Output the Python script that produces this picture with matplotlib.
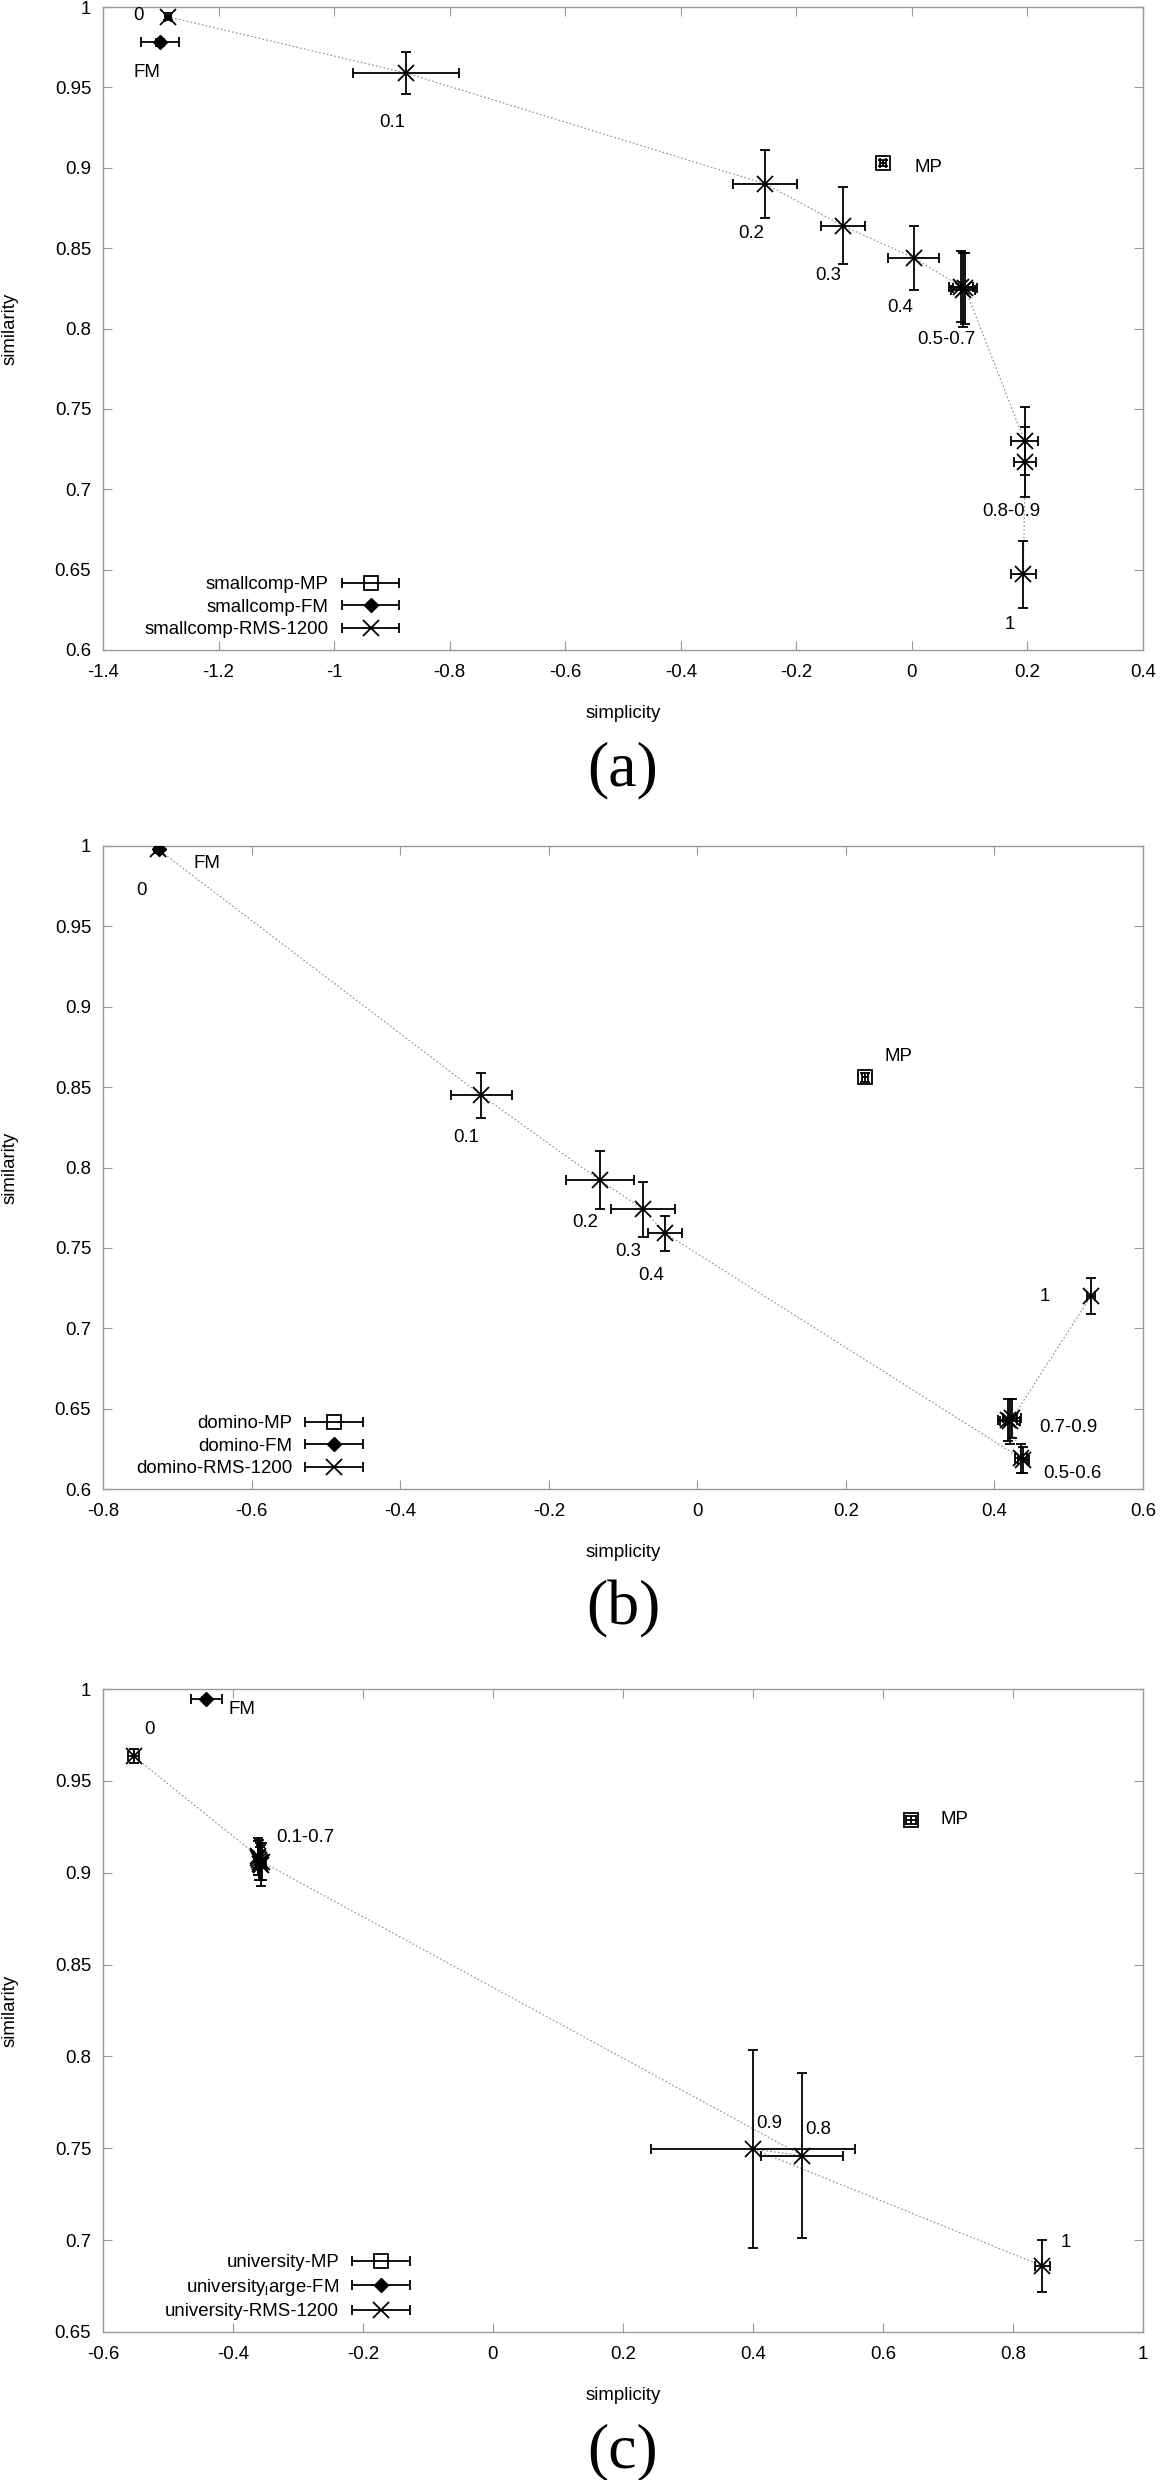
import numpy as np
import matplotlib
matplotlib.use('Agg')
import matplotlib.pyplot as plt
from matplotlib.container import ErrorbarContainer
from matplotlib.legend_handler import HandlerErrorbar

plt.rcParams['font.family'] = ['Liberation Sans', 'DejaVu Sans']
plt.rcParams['mathtext.fontset'] = 'custom'
plt.rcParams['mathtext.rm'] = 'Liberation Sans'
plt.rcParams['mathtext.it'] = 'Liberation Sans'
plt.rcParams['axes.unicode_minus'] = False

# ---------------- (a) smallcomp ----------------
a_rms_x = [-1.288, -0.876, -0.254, -0.120, 0.003, 0.085, 0.089, 0.092, 0.195, 0.196, 0.193]
a_rms_y = [0.994, 0.959, 0.890, 0.864, 0.844, 0.826, 0.824, 0.825, 0.730, 0.717, 0.647]
a_rms_xerr = [0.005, 0.092, 0.056, 0.038, 0.044, 0.020, 0.021, 0.020, 0.024, 0.019, 0.021]
a_rms_yerr = [0.002, 0.013, 0.021, 0.024, 0.020, 0.022, 0.023, 0.022, 0.021, 0.022, 0.021]
a_fm = (-1.302, 0.978, 0.033, 0.002)
a_mp = (-0.050, 0.903, 0.006, 0.002)
a_names = ['smallcomp-MP', 'smallcomp-FM', 'smallcomp-RMS-1200']
a_tags = ['0', '0.1', '0.2', '0.3', '0.4', '0.5-0.7', '0.8-0.9', '1']
a_tag_idx = [0, 1, 2, 3, 4, 6, 9, 10]
a_xticks = [-1.4, -1.2, -1, -0.8, -0.6, -0.4, -0.2, 0, 0.2, 0.4]
a_yticks = [0.6, 0.65, 0.7, 0.75, 0.8, 0.85, 0.9, 0.95, 1]

# ---------------- (b) domino ----------------
b_rms_x = [-0.726, -0.291, -0.131, -0.073, -0.043, 0.436, 0.439, 0.418, 0.421, 0.424, 0.530]
b_rms_y = [0.998, 0.845, 0.792, 0.774, 0.759, 0.619, 0.618, 0.643, 0.642, 0.644, 0.720]
b_rms_xerr = [0.004, 0.041, 0.046, 0.043, 0.023, 0.008, 0.007, 0.013, 0.014, 0.012, 0.005]
b_rms_yerr = [0.001, 0.014, 0.018, 0.017, 0.011, 0.009, 0.008, 0.013, 0.014, 0.012, 0.011]
b_fm = (-0.724, 0.998, 0.005, 0.001)
b_mp = (0.2255, 0.856, 0.004, 0.003)
b_names = ['domino-MP', 'domino-FM', 'domino-RMS-1200']
b_tags = ['0', '0.1', '0.2', '0.3', '0.4', '0.5-0.6', '0.7-0.9', '1']
b_tag_idx = [0, 1, 2, 3, 4, 5, 8, 10]
b_xticks = [-0.8, -0.6, -0.4, -0.2, 0, 0.2, 0.4, 0.6]
b_yticks = [0.6, 0.65, 0.7, 0.75, 0.8, 0.85, 0.9, 0.95, 1]

# ---------------- (c) university ----------------
c_rms_x = [-0.553, -0.362, -0.360, -0.358, -0.359, -0.357, -0.361, -0.356, 0.476, 0.400, 0.845]
c_rms_y = [0.9635, 0.909, 0.907, 0.905, 0.906, 0.904, 0.908, 0.906, 0.746, 0.7496, 0.686]
c_rms_xerr = [0.009, 0.006, 0.005, 0.006, 0.005, 0.006, 0.005, 0.006, 0.063, 0.157, 0.0115]
c_rms_yerr = [0.0036, 0.010, 0.011, 0.009, 0.010, 0.011, 0.009, 0.010, 0.045, 0.054, 0.0143]
c_fm = (-0.441, 0.9946, 0.0235, 0.001)
c_mp = (0.643, 0.9287, 0.007, 0.002)
c_names = ['university-MP', r'university$_{\mathrm{l}}$arge-FM', 'university-RMS-1200']
c_tags = ['0', '0.1-0.7', '0.8', '0.9', '1']
c_tag_idx = [0, 4, 8, 9, 10]
c_xticks = [-0.6, -0.4, -0.2, 0, 0.2, 0.4, 0.6, 0.8, 1]
c_yticks = [0.65, 0.7, 0.75, 0.8, 0.85, 0.9, 0.95, 1]

FS = 13.4
GREY = '#999999'
EB = dict(color='black', elinewidth=1.3, capsize=3.5, capthick=1.3, ls='none')


def draw_panel(ax, rms_x, rms_y, rms_xerr, rms_yerr, fm, mp, names,
               tags, tag_idx, tag_off, fm_off, mp_off,
               xticks, yticks, leg_x, caption):
    # dotted line joining the RMS runs
    ax.plot(rms_x, rms_y, ls=(0, (1.5, 2.0)), color='#8a8a8a', lw=0.8, zorder=1)
    ax.errorbar(rms_x, rms_y, xerr=rms_xerr, yerr=rms_yerr, fmt='x', ms=12,
                mew=1.3, zorder=3, **EB)
    ax.errorbar([fm[0]], [fm[1]], xerr=[fm[2]], yerr=[fm[3]], fmt='D', ms=7.5,
                mfc='black', mec='black', zorder=3, **EB)
    ax.errorbar([mp[0]], [mp[1]], xerr=[mp[2]], yerr=[mp[3]], fmt='s', ms=10.5,
                mfc='none', mec='black', mew=1.3, zorder=3, **EB)

    for t, i, off in zip(tags, tag_idx, tag_off):
        ax.annotate(t, (rms_x[i], rms_y[i]), xytext=off, textcoords='offset points',
                    ha='center', va='center', fontsize=FS)
    ax.annotate('FM', (fm[0], fm[1]), xytext=fm_off, textcoords='offset points',
                ha='center', va='center', fontsize=FS)
    ax.annotate('MP', (mp[0], mp[1]), xytext=mp_off, textcoords='offset points',
                ha='center', va='center', fontsize=FS)

    # legend proxies: horizontal bar only
    h_mp = ax.errorbar([np.nan], [np.nan], xerr=[np.nan], fmt='s', ms=10.5,
                       mfc='none', mec='black', mew=1.3, **EB)
    h_fm = ax.errorbar([np.nan], [np.nan], xerr=[np.nan], fmt='D', ms=7.5,
                       mfc='black', mec='black', **EB)
    h_rms = ax.errorbar([np.nan], [np.nan], xerr=[np.nan], fmt='x', ms=12,
                        mew=1.3, **EB)
    ax.legend([h_mp, h_fm, h_rms], names, loc='lower right',
              bbox_to_anchor=(leg_x, 0.018), frameon=False, markerfirst=False,
              borderpad=0, borderaxespad=0, handlelength=3.1, handletextpad=0.7,
              labelspacing=0.3, fontsize=FS,
              handler_map={ErrorbarContainer: HandlerErrorbar(xerr_size=1.55)})

    ax.set_xlim(xticks[0], xticks[-1])
    ax.set_ylim(yticks[0], yticks[-1])
    ax.set_xticks(xticks)
    ax.set_xticklabels(['%g' % v for v in xticks])
    ax.set_yticks(yticks)
    ax.set_yticklabels(['%g' % v for v in yticks])
    ax.tick_params(direction='in', top=True, right=True, length=6.7, width=0.8,
                   color=GREY, labelsize=FS)
    ax.tick_params(axis='x', pad=10)
    ax.tick_params(axis='y', pad=8.5)
    for s in ax.spines.values():
        s.set_color(GREY)
        s.set_linewidth(1.0)

    ax.text(0.5, -0.098, 'simplicity', transform=ax.transAxes, ha='center',
            va='center', fontsize=FS)
    ax.text(-0.0894, 0.5, 'similarity', transform=ax.transAxes, ha='center',
            va='center', rotation=90, fontsize=FS)
    ax.text(0.5, -0.188, caption, transform=ax.transAxes, ha='center',
            va='center', fontsize=46, family='Liberation Serif')


fig = plt.figure(figsize=(11.62, 24.80), dpi=100)
W, H = 1162.0, 2480.0
left = 103 / W
width = 1040 / W
height = 643 / H

ax_a = fig.add_axes([left, 1 - 650 / H, width, height])
ax_b = fig.add_axes([left, 1 - 1489 / H, width, height])
ax_c = fig.add_axes([left, 1 - 2332 / H, width, height])

below = (-10, -36)
draw_panel(ax_a, a_rms_x, a_rms_y, a_rms_xerr, a_rms_yerr, a_fm, a_mp, a_names,
           a_tags, a_tag_idx, [(-21, 1), below, below, below, below, (-12, -36), below, below],
           (-9, -21.5), (32.5, -3.5), a_xticks, a_yticks, 0.285, '(a)')

below = (-10.5, -30.5)
draw_panel(ax_b, b_rms_x, b_rms_y, b_rms_xerr, b_rms_yerr, b_fm, b_mp, b_names,
           b_tags, b_tag_idx, [(-11.5, -30), below, below, below, below, (36.6, -11), (42, -4), (-33, 0)],
           (34, -10), (24.3, 15), b_xticks, b_yticks, 0.25, '(b)')

draw_panel(ax_c, c_rms_x, c_rms_y, c_rms_xerr, c_rms_yerr, c_fm, c_mp, c_names,
           c_tags, c_tag_idx, [(11.7, 19.2), (32.8, 17.2), (11.7, 18.7), (11.7, 18.3), (16.6, 17)],
           (25.7, -7.4), (31, 0), c_xticks, c_yticks, 0.295, '(c)')

fig.savefig('out.png', dpi=100)
